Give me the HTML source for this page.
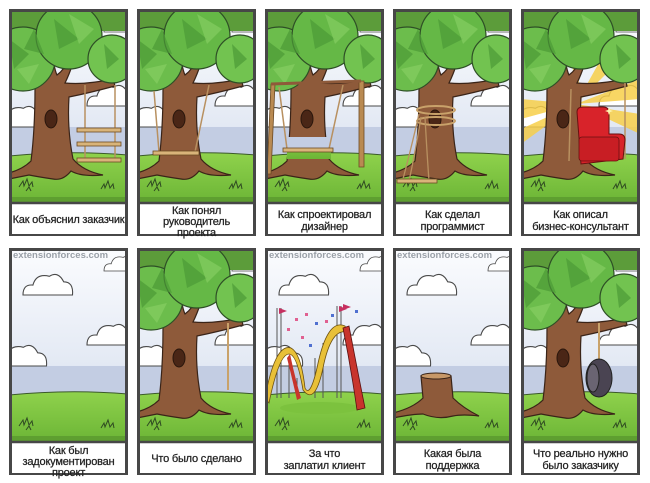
<!DOCTYPE html>
<html><head><meta charset="utf-8"><style>
html,body{margin:0;padding:0;background:#fff;width:650px;height:483px;overflow:hidden}
svg{display:block}
text{font-family:"Liberation Sans",sans-serif;}
.cap{font-size:11px;fill:#222;text-anchor:middle;letter-spacing:-0.2px;stroke:#222;stroke-width:0.25}
.wm{font-size:9.5px;fill:#9aa0a8;font-weight:bold}
</style></head><body>
<svg width="650" height="483" viewBox="0 0 650 483" xmlns="http://www.w3.org/2000/svg">
<defs>
<linearGradient id="sky" x1="0" y1="0" x2="0" y2="1">
<stop offset="0" stop-color="#fbfcfe"/><stop offset="0.6" stop-color="#e3e9f4"/><stop offset="1" stop-color="#b9c6e0"/>
</linearGradient>
<linearGradient id="grass" x1="0" y1="0" x2="0" y2="1">
<stop offset="0" stop-color="#8fd24c"/><stop offset="1" stop-color="#6cb536"/>
</linearGradient>
<clipPath id="pic"><rect x="0" y="0" width="119" height="194"/></clipPath>
<g id="cloud">
<path d="M0 20 Q0 10 9 11 Q12 0 24 3 Q32 -2 37 8 Q46 8 45 20 Z" fill="#fff" stroke="#4a4a4a" stroke-width="1"/>
</g>
<g id="bg">
<rect x="0" y="0" width="119" height="194" fill="url(#sky)"/>
<rect x="0" y="118" width="119" height="30" fill="#c3cde3"/>
<use href="#cloud" transform="translate(14,25) scale(1.1)"/>
<use href="#cloud" transform="translate(95,7) scale(0.8)"/>
<use href="#cloud" transform="translate(78,75) scale(1.1)"/>
<use href="#cloud" transform="translate(-12,96) scale(1.1)"/>
<path d="M0 147 Q60 141 119 146 L119 194 L0 194 Z" fill="url(#grass)" stroke="#3b5a2a" stroke-width="1"/>
<rect x="0" y="188" width="119" height="6" fill="#5e9f30"/>
<path d="M10 178 l4 -6 l1 5 l3 -7 l2 7 l3 -4 l1 5 M17 182 l3 -4 l2 4" fill="none" stroke="#2f4a22" stroke-width="1"/>
<path d="M92 180 l3 -5 l1 4 l3 -7 l2 7 l3 -4 l1 5" fill="none" stroke="#2f4a22" stroke-width="1"/>
</g>
<g id="crown">
<rect x="0" y="0" width="119" height="22" fill="#5c9c3a"/>
<circle cx="14" cy="50" r="32" fill="#6cbd4c" stroke="#2e4f26" stroke-width="1.2"/>
<circle cx="60" cy="27" r="33" fill="#65b846" stroke="#2e4f26" stroke-width="1.2"/>
<circle cx="103" cy="50" r="24" fill="#72c350" stroke="#2e4f26" stroke-width="1.2"/>
<path d="M0 30 L20 45 L5 60 Z M45 10 L70 30 L50 40 Z M95 35 L110 50 L98 60 Z M25 20 L35 45 L15 40Z" fill="#4c9a36" opacity="0.7"/>
<path d="M60 5 L85 20 L70 35 Z M8 60 L30 55 L20 75 Z" fill="#8bd065" opacity="0.6"/>
</g>
<g id="trunk">
<path d="M26 80 Q20 64 14 62 L22 58 Q30 66 36 68 Q38 56 36 50 L44 50 Q46 62 48 66 Q56 60 58 52 L64 54 Q60 66 56 74 Q76 76 104 70 L106 77 Q80 84 60 88 Q58 120 64 150 Q74 162 94 166 Q72 168 62 162 Q54 172 44 170 Q30 168 20 166 Q10 168 0 170 L0 164 Q14 160 22 152 Q26 120 26 80 Z" fill="#8e5a3a" stroke="#3a2418" stroke-width="1.2"/>
<ellipse cx="42" cy="110" rx="6" ry="9" fill="#4a2616" stroke="#2a160c" stroke-width="1"/>
</g>
<g id="tree"><use href="#trunk"/><use href="#crown"/></g>
<g id="frame">
<rect x="1.5" y="1.5" width="116" height="224" fill="none" stroke="#474747" stroke-width="3"/>
<rect x="3" y="194" width="113" height="31" fill="#fff"/>
<line x1="3" y1="194" x2="116" y2="194" stroke="#474747" stroke-width="2.5"/>
</g>
</defs>

<g transform="translate(9,9)">
<g clip-path="url(#pic)"><use href="#bg"/><use href="#tree"/>
<g stroke="#b89060" stroke-width="1.5"><line x1="76" y1="76" x2="76" y2="152"/><line x1="106" y1="76" x2="106" y2="152"/></g>
<g fill="#d9b47a" stroke="#6b4a24" stroke-width="0.8"><rect x="68" y="119" width="44" height="4"/><rect x="68" y="133" width="44" height="4"/><rect x="68" y="149" width="44" height="4"/></g>
</g>
<use href="#frame"/>
<text class="cap" x="59.5" y="214">Как  объяснил заказчик</text>
</g>
<g transform="translate(137,9)">
<g clip-path="url(#pic)"><use href="#bg"/><use href="#tree"/>
<g stroke="#b89060" stroke-width="1.5"><line x1="17" y1="82" x2="22" y2="143"/><line x1="72" y1="76" x2="58" y2="143"/></g>
<rect x="16" y="142" width="46" height="4" fill="#d9b47a" stroke="#6b4a24" stroke-width="0.8"/>
</g>
<use href="#frame"/>
<text class="cap" x="59.5" y="205">Как  понял</text><text class="cap" x="59.5" y="216">руководитель</text><text class="cap" x="59.5" y="227">проекта</text>
</g>
<g transform="translate(265,9)">
<g clip-path="url(#pic)"><use href="#bg"/><use href="#tree"/>
<rect x="22" y="128" width="44" height="22" fill="url(#grass)"/>
<rect x="0" y="128" width="119" height="12" fill="#c3cde3"/>
<g stroke="#6b4a24" stroke-width="0.8" fill="#b98a52"><path d="M6 75 L2 165 L6 165 L10 75Z"/><path d="M94 72 L94 158 L99 158 L99 72Z"/></g>
<line x1="6" y1="75" x2="96" y2="72" stroke="#8e5a3a" stroke-width="3"/>
<g stroke="#b89060" stroke-width="1.5"><line x1="14" y1="78" x2="22" y2="140"/><line x1="78" y1="76" x2="64" y2="140"/></g>
<rect x="18" y="139" width="50" height="4" fill="#d9b47a" stroke="#6b4a24" stroke-width="0.8"/>
</g>
<use href="#frame"/>
<text class="cap" x="59.5" y="209">Как  спроектировал</text><text class="cap" x="59.5" y="221">дизайнер</text>
</g>
<g transform="translate(393,9)">
<g clip-path="url(#pic)"><use href="#bg"/><use href="#tree"/>
<g fill="none" stroke="#c9a26a" stroke-width="2"><ellipse cx="43" cy="101" rx="19" ry="4"/><ellipse cx="43" cy="112" rx="19" ry="4"/></g>
<g stroke="#b89060" stroke-width="1.3" fill="none"><path d="M26 105 Q18 140 10 170"/><path d="M28 108 Q22 145 16 172"/><path d="M32 108 Q34 145 36 172"/></g>
<rect x="4" y="170" width="40" height="4" fill="#d9b47a" stroke="#6b4a24" stroke-width="0.8"/>
</g>
<use href="#frame"/>
<text class="cap" x="59.5" y="209">Как  сделал</text><text class="cap" x="59.5" y="221">программист</text>
</g>
<g transform="translate(521,9)">
<g clip-path="url(#pic)"><use href="#bg"/>
<g fill="#f7cf4a" opacity="0.85"><path d="M55 95 L0 90 L0 110Z"/><path d="M55 95 L0 120 L0 135Z"/><path d="M55 95 L50 40 L62 40Z"/><path d="M55 95 L119 70 L119 90Z"/><path d="M55 95 L80 50 L95 55Z"/><path d="M55 95 L119 105 L119 125Z"/></g>
<use href="#tree"/>
<g stroke="#b89060" stroke-width="1.5"><line x1="50" y1="80" x2="48" y2="152"/><line x1="104" y1="74" x2="104" y2="150"/></g>
<path d="M56 103 Q56 98 62 98 L82 98 Q88 98 88 104 L88 125 L98 125 Q104 125 104 131 L102 150 L60 155 Z" fill="#d8232a" stroke="#6a1010" stroke-width="1"/>
<rect x="58" y="128" width="40" height="24" rx="3" fill="#c81e24" stroke="#6a1010" stroke-width="0.8"/>
<path d="M88 98 l1 3 l3 1 l-3 1 l-1 3 l-1 -3 l-3 -1 l3 -1z" fill="#fff6b0"/>
</g>
<use href="#frame"/>
<text class="cap" x="59.5" y="209">Как  описал</text><text class="cap" x="59.5" y="221">бизнес-консультант</text>
</g>

<g transform="translate(9,248)">
<g clip-path="url(#pic)"><use href="#bg"/><text class="wm" x="4" y="10">extensionforces.com</text></g>
<use href="#frame"/>
<text class="cap" x="59.5" y="206">Как был</text><text class="cap" x="59.5" y="217">задокументирован</text><text class="cap" x="59.5" y="228">проект</text>
</g>
<g transform="translate(137,248)">
<g clip-path="url(#pic)"><use href="#bg"/><use href="#tree"/>
<line x1="91" y1="75" x2="91" y2="142" stroke="#c9a26a" stroke-width="2"/></g>
<use href="#frame"/>
<text class="cap" x="59.5" y="214">Что было сделано</text>
</g>
<g transform="translate(265,248)">
<g clip-path="url(#pic)"><use href="#bg"/><text class="wm" x="4" y="10">extensionforces.com</text>
<ellipse cx="55" cy="160" rx="40" ry="6" fill="#7cc23e"/>
<g stroke="#555" stroke-width="1"><line x1="12" y1="60" x2="12" y2="150"/><line x1="16" y1="60" x2="16" y2="150"/><line x1="72" y1="58" x2="72" y2="150"/><line x1="76" y1="58" x2="76" y2="150"/><line x1="32" y1="130" x2="32" y2="150"/><line x1="50" y1="110" x2="50" y2="150"/><line x1="58" y1="95" x2="58" y2="150"/><line x1="24" y1="110" x2="24" y2="150"/></g>
<path d="M0 150 Q10 95 26 100 Q36 105 40 140 Q45 150 52 120 Q62 70 80 78 L82 84 Q66 80 58 120 Q50 158 38 142 Q32 106 24 106 Q14 106 4 155 Z" fill="#e8c038" stroke="#6b5010" stroke-width="0.8"/>
<path d="M78 80 L84 78 Q92 120 100 160 L92 162 Q86 120 78 80Z" fill="#c8342c" stroke="#5a1010" stroke-width="0.8"/>
<path d="M25 106 Q30 130 36 150 L32 152 Q27 130 22 110Z" fill="#c8342c"/>
<g fill="#c63060"><path d="M14 60 l8 3 l-8 3z"/><path d="M74 58 l8 3 l-8 3z"/><path d="M78 56 l8 3 l-8 3z"/></g>
<g fill="#e06090"><rect x="30" y="70" width="3" height="3"/><rect x="40" y="65" width="3" height="3"/><rect x="22" y="80" width="3" height="3"/><rect x="60" y="72" width="3" height="3"/><rect x="36" y="88" width="3" height="3"/></g>
<g fill="#5070d0"><rect x="50" y="74" width="3" height="3"/><rect x="66" y="66" width="3" height="3"/><rect x="90" y="62" width="3" height="3"/><rect x="44" y="96" width="3" height="3"/></g>
</g>
<use href="#frame"/>
<text class="cap" x="59.5" y="209">За что</text><text class="cap" x="59.5" y="221">заплатил клиент</text>
</g>
<g transform="translate(393,248)">
<g clip-path="url(#pic)"><use href="#bg"/><text class="wm" x="4" y="10">extensionforces.com</text>
<path d="M28 128 L30 150 Q20 160 0 165 L0 170 Q20 166 30 166 Q45 172 60 168 Q70 166 86 168 Q70 160 60 150 L58 128 Z" fill="#8e5a3a" stroke="#3a2418" stroke-width="1.2"/>
<ellipse cx="43" cy="128" rx="15" ry="3" fill="#c79868" stroke="#3a2418" stroke-width="1"/>
</g>
<use href="#frame"/>
<text class="cap" x="59.5" y="209">Какая была</text><text class="cap" x="59.5" y="221">поддержка</text>
</g>
<g transform="translate(521,248)">
<g clip-path="url(#pic)"><use href="#bg"/><use href="#tree"/>
<line x1="78" y1="75" x2="78" y2="112" stroke="#c9a26a" stroke-width="2"/>
<ellipse cx="78" cy="130" rx="13" ry="19" fill="#4a4452" stroke="#222" stroke-width="1"/>
<ellipse cx="72" cy="130" rx="6" ry="14" fill="#6a6472" stroke="#222" stroke-width="1"/>
</g>
<use href="#frame"/>
<text class="cap" x="59.5" y="209">Что реально  нужно</text><text class="cap" x="59.5" y="221">было заказчику</text>
</g>
</svg>
</body></html>
